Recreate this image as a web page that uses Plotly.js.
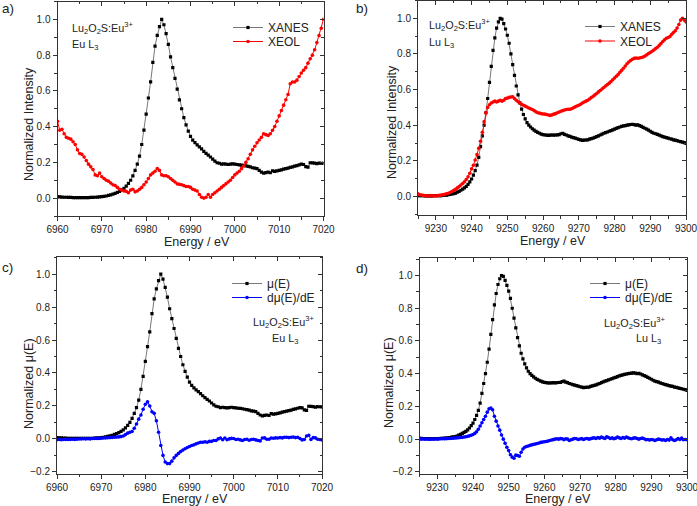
<!DOCTYPE html>
<html>
<head>
<meta charset="utf-8">
<script src="https://cdn.plot.ly/plotly-3.0.1.min.js"></script>
<style>html,body{margin:0;padding:0;background:#fff;}#chart{width:697px;height:506px;}</style>
</head>
<body>
<div id="chart"></div>
<script>
// ---------- DATA ----------
// Eu L3 edge: energy grid start / step (eV)
const euE0 = 6960, euStep = 0.5;
// Lu L3 edge: energy grid start / step (eV)
const luE0 = 9225, luStep = 0.5;

// Eu L3 XANES (normalized mu(E)), 6960..7020 eV
const euMu = [
 0.008,0.007,0.006,0.005,0.005,0.004,0.004,0.003,0.003,0.003,
 0.003,0.003,0.003,0.003,0.003,0.004,0.004,0.005,0.006,0.007,
 0.008,0.010,0.012,0.015,0.018,0.022,0.027,0.032,0.038,0.046,
 0.055,0.067,0.082,0.100,0.125,0.155,0.190,0.235,0.30,0.38,
 0.47,0.56,0.65,0.76,0.85,0.91,0.96,1.00,0.97,0.92,
 0.86,0.79,0.73,0.67,0.61,0.55,0.50,0.45,0.41,0.375,
 0.345,0.325,0.31,0.298,0.287,0.275,0.262,0.25,0.24,0.23,
 0.218,0.207,0.198,0.195,0.19,0.192,0.19,0.188,0.19,0.192,
 0.19,0.188,0.186,0.185,0.183,0.18,0.178,0.175,0.17,0.168,
 0.165,0.155,0.145,0.14,0.143,0.145,0.142,0.153,0.15,0.152,
 0.155,0.158,0.162,0.165,0.168,0.172,0.175,0.179,0.182,0.186,
 0.19,0.188,0.176,0.173,0.198,0.197,0.196,0.193,0.196,0.195,
 0.194];

// Eu L3 XEOL, 6960..7020 eV
const euXeol = [
 0.43,0.38,0.385,0.36,0.34,0.335,0.33,0.315,0.30,0.27,
 0.25,0.245,0.23,0.21,0.19,0.175,0.16,0.13,0.125,0.14,
 0.12,0.11,0.10,0.095,0.085,0.075,0.07,0.06,0.05,0.045,
 0.04,0.038,0.03,0.045,0.05,0.035,0.04,0.05,0.06,0.075,
 0.09,0.11,0.13,0.14,0.15,0.165,0.155,0.13,0.125,0.125,
 0.12,0.11,0.10,0.09,0.08,0.077,0.075,0.07,0.065,0.065,
 0.06,0.05,0.045,0.04,0.02,0.005,0.0,0.005,0.02,0.005,
 0.02,0.03,0.04,0.05,0.06,0.07,0.08,0.09,0.10,0.115,
 0.13,0.14,0.15,0.165,0.18,0.20,0.22,0.245,0.27,0.29,
 0.31,0.325,0.34,0.36,0.355,0.35,0.36,0.38,0.40,0.43,
 0.46,0.49,0.52,0.55,0.58,0.64,0.65,0.65,0.66,0.68,
 0.70,0.715,0.73,0.755,0.78,0.80,0.83,0.87,0.91,0.95,
 1.0];

// Eu L3 derivative dmu/dE (normalized), 6960..7020 eV
const euDeriv = [
 -0.005,-0.004,-0.005,-0.004,-0.003,-0.004,-0.003,-0.002,-0.003,-0.002,
 -0.001,0.0,0.001,0.0,0.001,0.0,0.002,0.002,0.003,0.003,
 0.004,0.005,0.006,0.007,0.008,0.009,0.01,0.011,0.012,0.014,
 0.018,0.026,0.035,0.04,0.045,0.065,0.09,0.12,0.145,0.18,
 0.21,0.225,0.20,0.165,0.155,0.11,0.04,-0.04,-0.10,-0.14,
 -0.15,-0.15,-0.135,-0.115,-0.10,-0.088,-0.077,-0.068,-0.06,-0.052,
 -0.046,-0.04,-0.036,-0.03,-0.025,-0.02,-0.02,-0.018,-0.02,-0.015,
 -0.015,-0.01,-0.01,0.0,0.005,-0.005,0.005,-0.005,0.0,0.003,
 0.002,-0.004,-0.002,-0.006,-0.01,-0.004,-0.002,-0.008,-0.004,-0.002,
 -0.006,-0.01,-0.012,0.005,0.006,-0.002,-0.002,0.005,0.004,0.006,
 0.005,0.008,0.006,0.01,0.01,0.008,0.01,0.011,0.008,0.01,
 0.002,-0.006,-0.004,0.018,0.022,-0.004,0.008,0.006,-0.002,-0.004,
 -0.006];

// Lu L3 XANES (normalized mu(E)), 9225..9300 eV
const luMu = [
 0.005,0.005,0.004,0.004,0.003,0.003,0.003,0.003,0.003,0.004,
 0.004,0.004,0.005,0.005,0.006,0.007,0.008,0.01,0.012,0.014,
 0.016,0.019,0.024,0.029,0.035,0.041,0.048,0.057,0.068,0.082,
 0.098,0.12,0.145,0.176,0.22,0.28,0.34,0.40,0.47,0.55,
 0.64,0.73,0.82,0.89,0.945,0.98,1.0,0.995,0.97,0.94,
 0.905,0.86,0.80,0.74,0.68,0.62,0.57,0.525,0.49,0.46,
 0.435,0.415,0.40,0.39,0.38,0.372,0.365,0.36,0.355,0.35,
 0.347,0.345,0.344,0.343,0.344,0.345,0.344,0.345,0.346,0.347,
 0.352,0.355,0.348,0.345,0.34,0.337,0.333,0.33,0.327,0.324,
 0.32,0.318,0.315,0.316,0.317,0.318,0.322,0.325,0.328,0.332,
 0.336,0.34,0.345,0.35,0.355,0.358,0.362,0.366,0.37,0.374,
 0.378,0.382,0.386,0.39,0.393,0.396,0.398,0.40,0.402,0.404,
 0.405,0.403,0.40,0.402,0.398,0.393,0.388,0.383,0.378,0.372,
 0.366,0.36,0.355,0.352,0.348,0.344,0.34,0.336,0.333,0.33,
 0.327,0.324,0.322,0.318,0.316,0.313,0.31,0.308,0.305,0.302,
 0.298];

// Lu L3 XEOL, 9225..9300 eV
const luXeol = [
 0.015,0.01,0.008,0.006,0.005,0.004,0.003,0.005,0.003,0.004,
 0.003,0.005,0.006,0.008,0.01,0.012,0.015,0.018,0.022,0.028,
 0.034,0.04,0.048,0.056,0.064,0.073,0.083,0.095,0.11,0.13,
 0.155,0.175,0.205,0.235,0.27,0.31,0.36,0.42,0.47,0.50,
 0.515,0.525,0.53,0.535,0.53,0.535,0.54,0.535,0.54,0.55,
 0.552,0.556,0.558,0.56,0.55,0.54,0.532,0.525,0.518,0.512,
 0.507,0.502,0.497,0.492,0.488,0.482,0.475,0.47,0.468,0.465,
 0.463,0.462,0.46,0.457,0.455,0.458,0.462,0.465,0.47,0.474,
 0.478,0.482,0.485,0.488,0.49,0.489,0.492,0.498,0.503,0.508,
 0.512,0.518,0.525,0.53,0.535,0.54,0.547,0.555,0.562,0.57,
 0.578,0.587,0.595,0.603,0.612,0.62,0.628,0.636,0.645,0.655,
 0.665,0.675,0.685,0.697,0.708,0.72,0.732,0.745,0.755,0.763,
 0.77,0.775,0.777,0.776,0.777,0.78,0.783,0.788,0.795,0.802,
 0.808,0.815,0.822,0.83,0.838,0.848,0.858,0.87,0.88,0.888,
 0.892,0.898,0.91,0.92,0.93,0.945,0.965,0.99,1.0,0.99,
 0.98];

// Lu L3 derivative dmu/dE (normalized), 9225..9300 eV
const luDeriv = [
 0.002,0.0,0.001,0.0,0.001,-0.001,0.0,0.001,0.0,0.001,
 0.0,0.001,0.002,0.002,0.003,0.003,0.004,0.004,0.005,0.006,
 0.007,0.008,0.009,0.01,0.011,0.013,0.015,0.017,0.02,0.024,
 0.028,0.035,0.045,0.06,0.08,0.10,0.12,0.14,0.165,0.185,
 0.19,0.18,0.14,0.11,0.08,0.055,0.025,0.0,-0.025,-0.05,
 -0.07,-0.095,-0.11,-0.117,-0.098,-0.1,-0.105,-0.08,-0.06,-0.05,
 -0.045,-0.042,-0.038,-0.035,-0.032,-0.03,-0.027,-0.024,-0.02,-0.018,
 -0.016,-0.014,-0.012,-0.008,-0.005,-0.003,0.0,0.002,0.0,0.003,
 0.002,-0.003,0.002,0.0,-0.008,-0.004,0.0,0.004,0.002,-0.002,
 0.001,0.003,-0.002,0.002,0.004,0.0,0.003,0.006,0.008,0.004,
 0.01,0.006,0.012,0.008,0.004,0.015,0.01,0.004,0.008,0.002,
 0.006,0.012,0.008,0.004,0.01,0.006,0.012,0.008,0.004,0.002,
 0.006,0.008,0.004,0.0,0.004,0.006,0.002,-0.004,-0.002,-0.006,
 -0.002,-0.004,-0.008,-0.004,0.0,-0.002,-0.006,-0.004,-0.008,-0.002,
 -0.006,0.008,-0.004,-0.008,-0.004,0.004,-0.002,0.006,-0.004,-0.002,
 -0.004];

// Labels
const panelLabels = ['a)', 'b)', 'c)', 'd)'];
const seriesNamesTop = ['XANES', 'XEOL'];
const seriesNamesBottom = ['\u03bc(E)', 'd\u03bc(E)/dE'];
const sampleText = 'Lu<sub>2</sub>O<sub>2</sub>S:Eu<sup>3+</sup>';
const edgeText = ['Eu L<sub>3</sub>', 'Lu L<sub>3</sub>'];
const xTitle = 'Energy / eV';
const yTitleTop = 'Normalized Intensity';
const yTitleBottom = 'Normalized \u03bc(E)';

// ---------- STYLE ----------
const FONT = 'Arial, "Liberation Sans", sans-serif';
const AX = '#333';
const blackStyle = {line: {color: '#555', width: 0.8}, marker: {symbol: 'square', size: 3.2, color: '#000'}};
const redStyle = {line: {color: '#ff0000', width: 1}, marker: {symbol: 'circle', size: 3.6, color: '#ff0000'}};
const blueStyle = {line: {color: '#0000ff', width: 1}, marker: {symbol: 'circle', size: 3.6, color: '#0000ff'}};

function tr(y, x0, dx, style, name, xa, ya, legend) {
  return {type: 'scatter', mode: 'lines+markers', x0: x0, dx: dx, y: y,
    name: name, xaxis: xa, yaxis: ya, legend: legend, hoverinfo: 'skip',
    line: style.line, marker: style.marker};
}

const traces = [
  tr(euMu, euE0, euStep, blackStyle, seriesNamesTop[0], 'x', 'y', 'legend'),
  tr(euXeol, euE0, euStep, redStyle, seriesNamesTop[1], 'x', 'y', 'legend2'),
  tr(luMu, luE0, luStep, blackStyle, seriesNamesTop[0], 'x2', 'y2', 'legend3'),
  tr(luXeol, luE0, luStep, redStyle, seriesNamesTop[1], 'x2', 'y2', 'legend4'),
  tr(euMu, euE0, euStep, blackStyle, seriesNamesBottom[0], 'x3', 'y3', 'legend5'),
  tr(euDeriv, euE0, euStep, blueStyle, seriesNamesBottom[1], 'x3', 'y3', 'legend6'),
  tr(luMu, luE0, luStep, blackStyle, seriesNamesBottom[0], 'x4', 'y4', 'legend7'),
  tr(luDeriv, luE0, luStep, blueStyle, seriesNamesBottom[1], 'x4', 'y4', 'legend8'),
];
// empty traces to host the inward mirror-tick axes
for (let i = 5; i <= 8; i++) {
  traces.push({type: 'scatter', mode: 'markers', x: [], y: [], xaxis: 'x' + i, yaxis: 'y' + i,
    showlegend: false, hoverinfo: 'skip'});
}

const W = 697, H = 506;
// panel boxes in pixels: [left, right, top, bottom]
const boxes = [
  [57.5, 323.5, 1.5, 216],
  [418, 686, 0.5, 215],
  [57, 322, 256.5, 473.5],
  [419.5, 687, 257.5, 473.5],
];
const xRanges = [[6960, 7020], [9225, 9300], [6960, 7020], [9225, 9300]];
const yRanges = [[-0.1, 1.1], [-0.104, 1.1], [-0.21, 1.107], [-0.21, 1.11]];
const yTitles = [yTitleTop, yTitleTop, yTitleBottom, yTitleBottom];

const layout = {
  width: W, height: H, autosize: false,
  margin: {l: 0, r: 0, t: 0, b: 0},
  paper_bgcolor: '#fff', plot_bgcolor: '#fff',
  font: {family: FONT, color: '#222', size: 10},
  showlegend: true,
  annotations: [],
};

function sfx(i) { return i === 0 ? '' : String(i + 1); }

boxes.forEach((b, i) => {
  const xd = [b[0] / W, b[1] / W];
  const yd = [1 - b[3] / H, 1 - b[2] / H];
  const s = sfx(i);
  const o = String(i + 5);
  layout['xaxis' + s] = {
    domain: xd, range: xRanges[i], anchor: 'y' + s,
    showline: true, linecolor: AX, linewidth: 1, mirror: true,
    ticks: 'outside', ticklen: 4, tickwidth: 1, tickcolor: AX,
    dtick: 10, tick0: 0, ticklabeloverflow: 'allow',
    minor: {ticks: 'outside', ticklen: 2.5, tickwidth: 1, tickcolor: AX, dtick: 5, tick0: 0},
    showgrid: false, zeroline: false,
    tickfont: {family: FONT, size: 10, color: '#222'},
    fixedrange: true,
  };
  layout['yaxis' + s] = {
    domain: yd, range: yRanges[i], anchor: 'x' + s,
    showline: true, linecolor: AX, linewidth: 1, mirror: true,
    ticks: 'outside', ticklen: 4, tickwidth: 1, tickcolor: AX,
    dtick: 0.2, tick0: 0, tickformat: '.1f', ticklabeloverflow: 'allow',
    minor: {ticks: 'outside', ticklen: 2.5, tickwidth: 1, tickcolor: AX, dtick: 0.1, tick0: 0},
    showgrid: false, zeroline: false,
    tickfont: {family: FONT, size: 10, color: '#222'},
    fixedrange: true,
  };
  layout['xaxis' + o] = {
    overlaying: 'x' + s, anchor: 'y' + o, side: 'top', range: xRanges[i],
    showline: false, showgrid: false, zeroline: false, showticklabels: false,
    ticks: 'inside', ticklen: 4, tickwidth: 1, tickcolor: AX, dtick: 10, tick0: 0,
    minor: {ticks: 'inside', ticklen: 2.5, tickwidth: 1, tickcolor: AX, dtick: 5, tick0: 0},
    fixedrange: true,
  };
  layout['yaxis' + o] = {
    overlaying: 'y' + s, anchor: 'x' + o, side: 'right', range: yRanges[i],
    showline: false, showgrid: false, zeroline: false, showticklabels: false,
    ticks: 'inside', ticklen: 4, tickwidth: 1, tickcolor: AX, dtick: 0.2, tick0: 0,
    minor: {ticks: 'inside', ticklen: 2.5, tickwidth: 1, tickcolor: AX, dtick: 0.1, tick0: 0},
    fixedrange: true,
  };
});

// one legend per legend row: [text start x, row centre y] in pixels
const legendRows = [[262, 26], [262, 40], [614, 25], [614, 39.5], [261, 282], [261, 296], [619, 282], [619, 296]];
legendRows.forEach((p, i) => {
  layout['legend' + (i === 0 ? '' : String(i + 1))] = {
    x: (p[0] - 34) / W, y: 1 - (p[1] - 13) / H, xanchor: 'left', yanchor: 'top',
    bgcolor: 'rgba(0,0,0,0)', borderwidth: 0,
    font: {family: FONT, size: 12, color: '#222'},
    itemwidth: 30, tracegroupgap: 0,
  };
});

// text annotations (pixel positions)
function ann(text, px, py, size, anchor, angle) {
  layout.annotations.push({
    text: text, xref: 'paper', yref: 'paper', x: px / W, y: 1 - py / H,
    xanchor: anchor || 'left', yanchor: 'middle', showarrow: false,
    textangle: angle || 0,
    font: {family: FONT, size: size, color: '#222'},
  });
}
ann(sampleText, 70, 28, 10.8);
ann(edgeText[0], 70, 45, 10.8);
ann(sampleText, 427, 25, 10.8);
ann(edgeText[1], 427, 43, 10.8);
ann(sampleText, 251, 322, 10.8);
ann(edgeText[0], 270, 339, 10.8);
ann(sampleText, 602, 323, 10.8);
ann(edgeText[1], 634, 339, 10.8);
ann(panelLabels[0], 0, 8, 13.5);
ann(panelLabels[1], 354, 8, 13.5);
ann(panelLabels[2], 0, 267, 13.5);
ann(panelLabels[3], 354, 268, 13.5);
// axis titles
ann(xTitle, 197, 242, 12.5, 'center');
ann(xTitle, 553, 241, 12.5, 'center');
ann(xTitle, 195, 499, 12.5, 'center');
ann(xTitle, 558, 499, 12.5, 'center');
ann(yTitles[0], 29, 124, 12.5, 'center', -90);
ann(yTitles[1], 392, 122, 12.5, 'center', -90);
ann(yTitles[2], 29, 383, 12.5, 'center', -90);
ann(yTitles[3], 389, 383, 12.5, 'center', -90);

Plotly.newPlot('chart', traces, layout, {staticPlot: true, displayModeBar: false});
</script>
</body>
</html>
